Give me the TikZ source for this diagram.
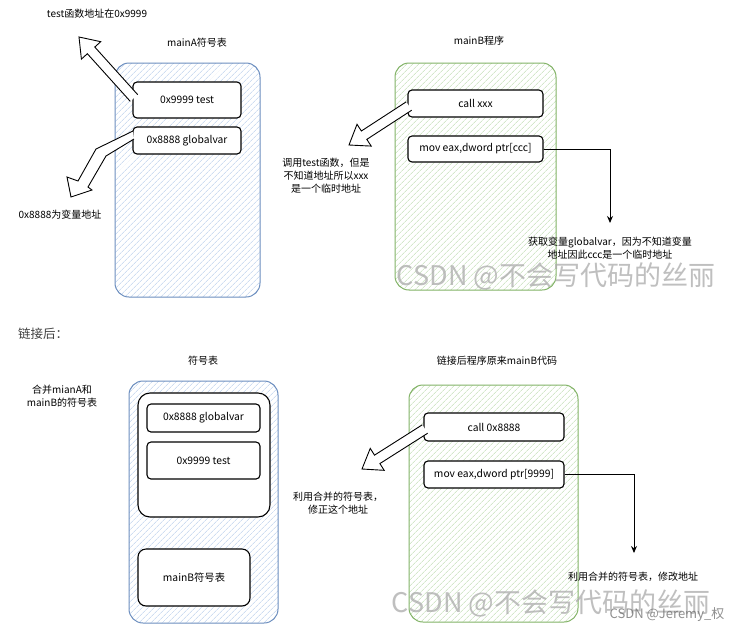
\documentclass[tikz,border=0pt]{standalone}
\usepackage{fontspec}
\setmainfont{Noto Sans CJK SC}
\usetikzlibrary{calc,patterns.meta,arrows.meta}
\definecolor{blueC}{HTML}{6C8EBF}
\definecolor{blueH}{HTML}{B4CBEA}
\definecolor{greenC}{HTML}{82B366}
\definecolor{greenH}{HTML}{BCDBAE}
\definecolor{wm}{RGB}{170,170,170}
\tikzset{
  bigbox/.style={draw, line width=1pt, rounded corners=14pt, inner sep=0pt},
  bluebox/.style={bigbox, draw=blueC, pattern={Lines[angle=45,distance=4pt,line width=0.55pt]}, pattern color=blueH},
  greenbox/.style={bigbox, draw=greenC, pattern={Lines[angle=45,distance=4pt,line width=0.55pt]}, pattern color=greenH},
  item/.style={draw=black, fill=white, line width=1.1pt, rounded corners=4pt, inner sep=0pt, font=\fontsize{10.3}{12}\selectfont},
  lbl/.style={font=\fontsize{10}{13}\selectfont, align=center, inner sep=0pt},
  hollow/.style={draw=black, line width=0.9pt, fill=white, line join=miter},
  conn/.style={draw=black, line width=1pt, -{Stealth[length=7pt,width=6pt]}},
  wmark/.style={text=wm, opacity=0.75, inner sep=0pt}
}
\newcommand\harrow[2]{%
  \path[hollow] let \p1=(#1), \p2=(#2),
    \n1={atan2(\y2-\y1,\x2-\x1)}, \n2={veclen(\x2-\x1,\y2-\y1)-18} in
    ($(\p1)+(\n1+90:5pt)$) -- ($(\p1)+(\n1:\n2)+(\n1+90:5pt)$)
    -- ($(\p1)+(\n1:\n2)+(\n1+90:13pt)$) -- (\p2)
    -- ($(\p1)+(\n1:\n2)+(\n1-90:13pt)$) -- ($(\p1)+(\n1:\n2)+(\n1-90:5pt)$)
    -- ($(\p1)+(\n1-90:5pt)$);%
}
\begin{document}
\begin{tikzpicture}[x=1pt,y=-1pt]
\useasboundingbox[fill=white] (0,0) rectangle (747,633);

% ---------- top: mainA ----------
\node[lbl] (t1) at (97,14) {test函数地址在0x9999};
\node[lbl] (t2) at (197,43) {mainA符号表};
\node[bluebox, minimum width=145pt, minimum height=234pt] (boxA) at (187.5,180) {};
\node[item, minimum width=108pt, minimum height=36pt] (a1) at (187,100) {0x9999 test};
\node[item, minimum width=108pt, minimum height=27pt] (a2) at (187,140.5) {0x8888 globalvar};
\node[lbl] (t3) at (60,215) {0x8888为变量地址};
\coordinate (a1s) at (134,98);
\coordinate (h1tip) at (79,37);
\harrow{a1s}{h1tip}
\path[hollow] (133,131) -- (96,149) -- (78,181) -- (67,177) -- (71,197) -- (92,190) -- (88,187) -- (106,156) -- (134,139);

% ---------- top: mainB ----------
\node[lbl] (t4) at (479,41) {mainB程序};
\node[greenbox, minimum width=161pt, minimum height=227pt] (boxB) at (475.5,176.5) {};
\node[item, minimum width=135pt, minimum height=27pt] (b1) at (475.5,103.5) {call xxx};
\node[item, minimum width=135pt, minimum height=26pt] (b2) at (475.5,149) {mov eax,dword ptr[ccc]};
\node[lbl] (t5) at (326,176) {调用test函数，但是\\不知道地址所以xxx\\是一个临时地址};
\coordinate (b1s) at (409,106);
\coordinate (h3tip) at (349,145);
\harrow{b1s}{h3tip}
\coordinate (e1) at (610,223);
\draw[conn] (b2.east) -| (e1);
\node[lbl] (t6) at (610,248) {获取变量globalvar，因为不知道变量\\地址因此ccc是一个临时地址};

% ---------- separator ----------
\node[font=\fontsize{12.5}{14}\selectfont, text=black!75, inner sep=0pt, anchor=west] (t7) at (18,334) {链接后：};

% ---------- bottom: merged symbol table ----------
\node[lbl] (t8) at (203,361) {符号表};
\node[lbl] (t9) at (62,396) {合并mianA和\\mainB的符号表};
\node[bluebox, minimum width=149pt, minimum height=242pt] (boxC) at (203.5,502) {};
\node[item, rounded corners=12pt, minimum width=132pt, minimum height=124pt] (c0) at (204,455) {};
\node[item, minimum width=113pt, minimum height=28pt] (c1) at (203.5,418) {0x8888 globalvar};
\node[item, minimum width=113pt, minimum height=37pt] (c2) at (203.5,460.5) {0x9999 test};
\node[item, rounded corners=8pt, minimum width=112pt, minimum height=57pt] (c3) at (194,577.5) {mainB符号表};

% ---------- bottom: linked mainB ----------
\node[lbl] (t10) at (497,361) {链接后程序原来mainB代码};
\node[greenbox, minimum width=169pt, minimum height=237pt] (boxD) at (493.5,503.5) {};
\node[item, minimum width=140pt, minimum height=28pt] (d1) at (494,427) {call 0x8888};
\node[item, minimum width=140pt, minimum height=27pt] (d2) at (494,474.5) {mov eax,dword ptr[9999]};
\coordinate (d1s) at (425,429);
\coordinate (h4tip) at (362,469);
\harrow{d1s}{h4tip}
\node[lbl] (t11) at (338,503) {利用合并的符号表，\\修正这个地址};
\coordinate (e2) at (634,553);
\draw[conn] (d2.east) -| (e2);
\node[lbl] (t12) at (633,577) {利用合并的符号表，修改地址};

% ---------- watermarks ----------
\node[wmark, font=\fontsize{27}{29}\selectfont] (w1) at (556,276) {CSDN @不会写代码的丝丽};
\node[wmark, font=\fontsize{27}{29}\selectfont] (w2) at (551,603) {CSDN @不会写代码的丝丽};
\node[wmark, text=black!55, opacity=0.8, font=\fontsize{13}{14}\selectfont] (w3) at (667,615) {CSDN @Jeremy\_权};
\end{tikzpicture}
\end{document}
